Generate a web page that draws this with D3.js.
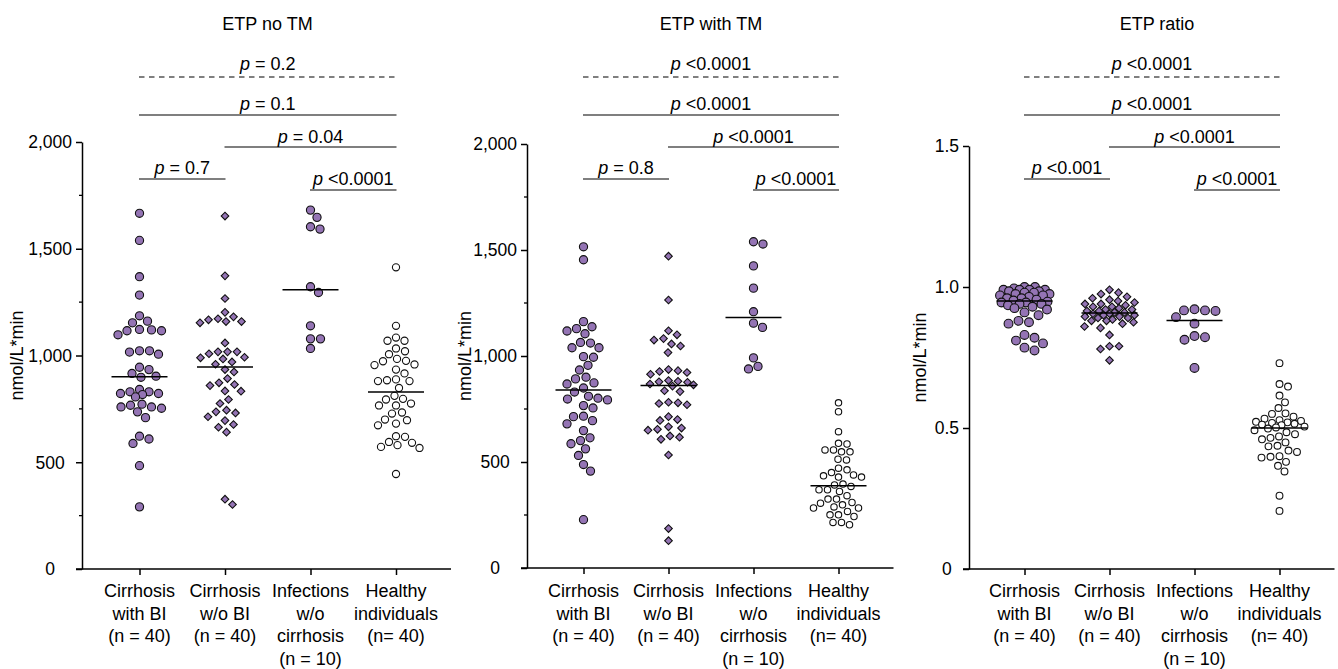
<!DOCTYPE html>
<html><head><meta charset="utf-8">
<script src="https://cdn.jsdelivr.net/npm/d3@7"></script>
<style>
body{margin:0;background:#fff;}
svg{display:block;font-family:"Liberation Sans",Arial,Helvetica,sans-serif;}
</style></head><body>
<svg id="chart" width="1338" height="669"></svg>
<script>
// ---------- categories / labels ----------
const groups = ["Cirrhosis with BI", "Cirrhosis w/o BI", "Infections w/o cirrhosis", "Healthy individuals"];
const groupLabelLines = [
  ["Cirrhosis", "with BI", "(n = 40)"],
  ["Cirrhosis", "w/o BI", "(n = 40)"],
  ["Infections", "w/o", "cirrhosis", "(n = 10)"],
  ["Healthy", "individuals", "(n= 40)"]
];
const panelTitles = ["ETP no TM", "ETP with TM", "ETP ratio"];
const yAxisTitle = "nmol/L*min";

const ticksAbs = [0, 500, 1000, 1500, 2000];
const tickLabelsAbs = ["0", "500", "1,000", "1,500", "2,000"];
const minorTicksAbs = [250, 750, 1250, 1750];
const ticksRatio = [0, 0.5, 1.0, 1.5];
const tickLabelsRatio = ["0", "0.5", "1.0", "1.5"];
const minorTicksRatio = [];

// ---------- data: ETP no TM ----------
const noTM_cirrhosisBI = [1666,1539,1369,1283,1186,1161,1153,1122,1120,1116,1116,1097,1022,1022,1016,1006,945,934,916,903,898,841,830,830,822,822,817,806,772,767,759,759,753,736,709,622,609,588,484,291];
const noTM_cirrhosisNoBI = [1653,1373,1267,1202,1181,1172,1167,1159,1159,1153,1059,1017,1017,1017,1008,992,989,984,970,959,934,923,892,872,864,859,834,833,794,775,744,736,731,713,695,677,664,641,327,302];
const noTM_infections = [1681,1647,1603,1592,1322,1295,1139,1078,1078,1033];
const noTM_healthy = [1413,1139,1084,1069,1069,1033,1020,1006,984,975,973,958,955,934,916,888,884,880,880,848,811,797,794,775,766,766,733,728,700,697,681,673,622,619,595,591,580,572,567,445];

// ---------- data: ETP with TM ----------
const withTM_cirrhosisBI = [1515,1454,1162,1138,1129,1118,1105,1064,1061,1039,1039,997,994,956,934,900,892,873,868,849,830,810,801,797,793,766,755,716,714,695,680,648,614,601,586,562,531,488,457,228];
const withTM_cirrhosisNoBI = [1471,1264,1119,1100,1082,1075,1057,1047,1016,936,931,927,922,914,884,881,878,876,868,864,858,836,832,782,779,776,770,714,700,696,666,660,654,650,623,617,607,533,186,129];
const withTM_infections = [1539,1528,1425,1320,1209,1155,1135,991,951,939];
const withTM_healthy = [779,737,643,588,585,557,557,548,548,513,510,471,463,450,439,435,429,429,396,392,385,369,369,361,341,325,325,309,306,298,288,283,283,267,251,251,243,215,215,204];

// ---------- data: ETP ratio ----------
const ratio_cirrhosisBI = [1.00,1.00,0.995,0.99,0.99,0.99,0.99,0.985,0.985,0.98,0.98,0.975,0.975,0.97,0.97,0.965,0.96,0.96,0.955,0.952,0.948,0.945,0.945,0.94,0.94,0.935,0.93,0.925,0.92,0.91,0.90,0.88,0.875,0.87,0.83,0.82,0.81,0.80,0.785,0.775];
const ratio_cirrhosisNoBI = [0.99,0.98,0.975,0.965,0.96,0.955,0.95,0.945,0.94,0.94,0.935,0.93,0.93,0.925,0.92,0.92,0.915,0.915,0.91,0.91,0.905,0.905,0.90,0.90,0.895,0.895,0.89,0.89,0.885,0.88,0.88,0.875,0.87,0.86,0.855,0.83,0.79,0.79,0.78,0.74];
const ratio_infections = [0.921,0.917,0.917,0.915,0.893,0.870,0.826,0.822,0.813,0.713];
const ratio_healthy = [0.730,0.656,0.647,0.615,0.591,0.571,0.552,0.550,0.540,0.533,0.528,0.525,0.522,0.520,0.518,0.515,0.512,0.510,0.505,0.502,0.498,0.492,0.485,0.478,0.470,0.465,0.460,0.449,0.437,0.435,0.420,0.415,0.400,0.398,0.395,0.380,0.366,0.346,0.260,0.206];

// ---------- comparisons ----------
const comparisonPairs = [[0,3],[0,3],[1,3],[0,1],[2,3]];
const pNoTM = ["= 0.2", "= 0.1", "= 0.04", "= 0.7", "<0.0001"];
const pWithTM = ["<0.0001", "<0.0001", "<0.0001", "= 0.8", "<0.0001"];
const pRatio = ["<0.0001", "<0.0001", "<0.0001", "<0.001", "<0.0001"];

// ---------- layout ----------
const PURPLE = "#9474b4";
const panels = [
  { title: panelTitles[0], data: [noTM_cirrhosisBI, noTM_cirrhosisNoBI, noTM_infections, noTM_healthy],
    p: pNoTM, ticks: ticksAbs, labels: tickLabelsAbs, minor: minorTicksAbs, yMax: 2000,
    axisX: 82, xRange: [139.5, 396], yRange: [569, 142], titleX: 267.5, yTitleX: 17,
    rC: 4.1, rO: 3.6, hD: 3.8 },
  { title: panelTitles[1], data: [withTM_cirrhosisBI, withTM_cirrhosisNoBI, withTM_infections, withTM_healthy],
    p: pWithTM, ticks: ticksAbs, labels: tickLabelsAbs, minor: minorTicksAbs, yMax: 2000,
    axisX: 527, xRange: [583.5, 838.5], yRange: [568, 144], titleX: 711, yTitleX: 465,
    rC: 4.1, rO: 3.2, hD: 3.8 },
  { title: panelTitles[2], data: [ratio_cirrhosisBI, ratio_cirrhosisNoBI, ratio_infections, ratio_healthy],
    p: pRatio, ticks: ticksRatio, labels: tickLabelsRatio, minor: minorTicksRatio, yMax: 1.5,
    axisX: 969, xRange: [1024.5, 1279.5], yRange: [569, 146], titleX: 1157, yTitleX: 920,
    rC: 4.4, rO: 3.4, hD: 3.8 }
];
const bracketLineY = [77, 115, 147, 179, 190];
const bracketTextY = [69.5, 110, 142.5, 174, 185];

const svg = d3.select("#chart");

function swarm(vals, y, cx, diam, maxOff) {
  const pts = vals.map(v => ({ v, y: y(v) }));
  const order = pts.slice().sort((a, b) => d3.ascending(a.y, b.y));
  const placed = [];
  for (const p of order) {
    let best = 0, bestD = -1;
    for (let k = 0; ; k++) {
      const off = k === 0 ? 0 : (k % 2 ? 1 : -1) * Math.ceil(k / 2) * 0.5;
      if (Math.abs(off) > maxOff) break;
      let md = Infinity;
      for (const q of placed) {
        const d = Math.hypot(off - q.off, p.y - q.y);
        if (d < md) md = d;
      }
      if (md >= diam) { best = off; bestD = md; break; }
      if (md > bestD + 0.3) { bestD = md; best = off; }
    }
    p.off = best;
    placed.push(p);
  }
  return pts.map(p => ({ v: p.v, x: cx + p.off, y: p.y }));
}

panels.forEach(P => {
  const g = svg.append("g");
  const x = d3.scalePoint().domain(groups).range(P.xRange);
  const y = d3.scaleLinear().domain([0, P.yMax]).range(P.yRange);

  // title
  g.append("text").attr("x", P.titleX).attr("y", 29.5).attr("text-anchor", "middle")
    .attr("font-size", 18).attr("fill", "#000").text(P.title);

  // y axis
  const yAxis = d3.axisLeft(y).tickValues(P.ticks).tickSize(6).tickSizeOuter(0)
    .tickFormat((d, i) => P.labels[i]);
  const ya = g.append("g").attr("transform", `translate(${P.axisX},0)`).call(yAxis);
  ya.select(".domain").attr("stroke", "#000").attr("stroke-width", 1.5);
  ya.selectAll(".tick line").attr("stroke", "#000").attr("stroke-width", 1.5);
  ya.selectAll(".tick text").attr("font-size", 17.5).attr("fill", "#000")
    .attr("font-family", '"Liberation Sans",Arial,sans-serif');
  let maxW = 0;
  ya.selectAll(".tick text").each(function () { maxW = Math.max(maxW, this.getComputedTextLength()); });
  ya.selectAll(".tick text").attr("text-anchor", "middle").attr("x", -(10 + maxW / 2)).attr("dy", "0.34em");
  // minor ticks
  g.append("g").selectAll("line").data(P.minor).join("line")
    .attr("x1", P.axisX - 3).attr("x2", P.axisX).attr("y1", d => y(d)).attr("y2", d => y(d))
    .attr("stroke", "#000").attr("stroke-width", 1.3);

  // x axis
  const xAxisY = y(0);
  g.append("line").attr("x1", P.axisX - 6).attr("x2", P.xRange[1] + 55)
    .attr("y1", xAxisY).attr("y2", xAxisY).attr("stroke", "#000").attr("stroke-width", 1.5);
  const xAxis = d3.axisBottom(x).tickSize(6).tickSizeOuter(0).tickFormat("");
  const xa = g.append("g").attr("transform", `translate(0,${xAxisY})`).call(xAxis);
  xa.select(".domain").remove();
  xa.selectAll(".tick line").attr("stroke", "#000").attr("stroke-width", 1.5);

  // category labels
  groups.forEach((grp, i) => {
    const t = g.append("text").attr("text-anchor", "middle").attr("font-size", 18).attr("fill", "#000");
    groupLabelLines[i].forEach((ln, j) => {
      t.append("tspan").attr("x", x(grp)).attr("y", 597 + j * 22.7).text(ln);
    });
  });

  // y axis title
  const yMid = (P.yRange[0] + P.yRange[1]) / 2;
  g.append("text").attr("transform", `translate(${P.yTitleX},${yMid}) rotate(-90)`)
    .attr("text-anchor", "middle").attr("dy", "0.35em").attr("font-size", 18).attr("fill", "#000")
    .text(yAxisTitle);

  // points
  groups.forEach((grp, i) => {
    const vals = P.data[i];
    const cx = x(grp);
    let diam, pts;
    if (i === 1) {
      diam = 2 * P.hD + 1.6;
      pts = swarm(vals, y, cx, diam, 25);
      g.append("g").selectAll("path").data(pts).join("path")
        .attr("d", d3.symbol(d3.symbolSquare, 2 * P.hD * P.hD)())
        .attr("transform", d => `translate(${d.x},${d.y}) rotate(45)`)
        .attr("fill", PURPLE).attr("stroke", "#111").attr("stroke-width", 1.1);
    } else if (i === 3) {
      diam = 2 * P.rO + 1.8;
      pts = swarm(vals, y, cx, diam, 25);
      g.append("g").selectAll("circle").data(pts).join("circle")
        .attr("cx", d => d.x).attr("cy", d => d.y).attr("r", P.rO)
        .attr("fill", "#fff").attr("stroke", "#111").attr("stroke-width", 1.1);
    } else {
      diam = 2 * P.rC + 1.4;
      pts = swarm(vals, y, cx, diam, 25);
      g.append("g").selectAll("circle").data(pts).join("circle")
        .attr("cx", d => d.x).attr("cy", d => d.y).attr("r", P.rC)
        .attr("fill", PURPLE).attr("stroke", "#111").attr("stroke-width", 1.1);
    }
    // median line
    const med = d3.median(vals);
    g.append("line").attr("x1", cx - 28).attr("x2", cx + 28)
      .attr("y1", y(med)).attr("y2", y(med)).attr("stroke", "#000").attr("stroke-width", 1.5);
  });

  // significance brackets
  comparisonPairs.forEach((pair, k) => {
    const x1 = x(groups[pair[0]]) - 0.5, x2 = x(groups[pair[1]]) + 0.5;
    g.append("line").attr("x1", x1).attr("x2", x2)
      .attr("y1", bracketLineY[k]).attr("y2", bracketLineY[k])
      .attr("stroke", "#555").attr("stroke-width", 1.3)
      .attr("stroke-dasharray", k === 0 ? "5.5,4.5" : null);
    const t = g.append("text").attr("x", (x1 + x2) / 2).attr("y", bracketTextY[k])
      .attr("text-anchor", "middle").attr("font-size", 18).attr("fill", "#000");
    t.append("tspan").attr("font-style", "italic").text("p");
    t.append("tspan").text(" " + P.p[k]);
  });
});
</script>
</body></html>
